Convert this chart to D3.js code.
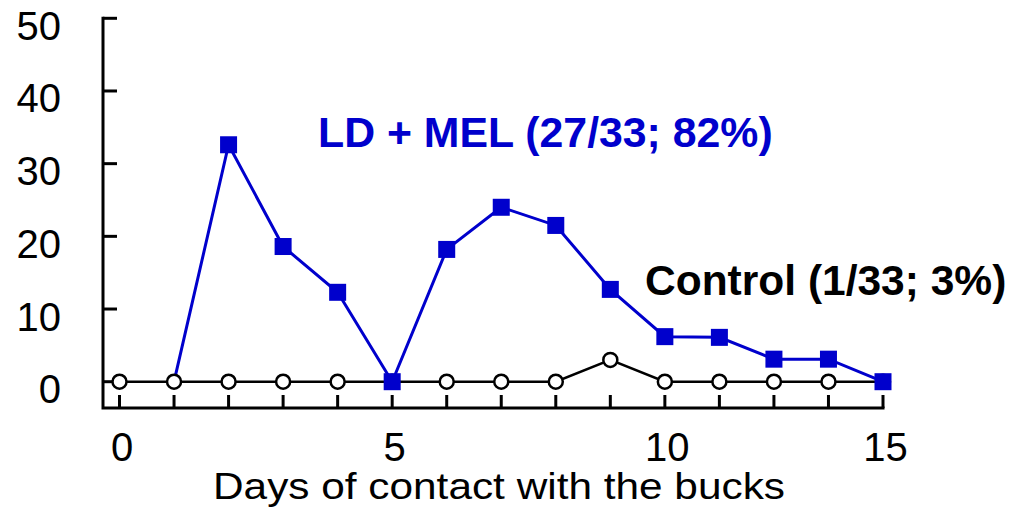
<!DOCTYPE html>
<html>
<head>
<meta charset="utf-8">
<script src="https://cdn.jsdelivr.net/npm/d3@7"></script>
<style>
  html, body { margin: 0; padding: 0; background: #fff; }
  svg { display: block; }
  text { font-family: "Liberation Sans", Arial, sans-serif; }
</style>
</head>
<body>
<svg id="chart" width="1009" height="507"></svg>
<script>
// Observation days (the last sampling point is day 15)
const days = [0, 1, 2, 3, 4, 5, 6, 7, 8, 9, 10, 11, 12, 13, 15];
// LD + MEL group: % of does, series starts from the baseline on day 1
const treatedDays = [1, 2, 3, 4, 5, 6, 7, 8, 9, 10, 11, 12, 13, 15];
const treatedValues = [0, 32.6, 18.6, 12.3, 0, 18.2, 24.0, 21.5, 12.7, 6.2, 6.1, 3.1, 3.1, 0];
// Control group
const controlValues = [0, 0, 0, 0, 0, 0, 0, 0, 0, 3.0, 0, 0, 0, 0, 0];
// Axis ticks
const yTicks = [0, 10, 20, 30, 40, 50];
const xLabelDays = [0, 5, 10, 15];

const blue = "#0000cc";
const svg = d3.select("#chart");

const x = d3.scalePoint().domain(days).range([119.5, 883]);
const y = d3.scaleLinear().domain([0, 50]).range([381.7, 18.3]);

const axisY = 408;  // baseline of the x axis
const axisX = 103;  // position of the y axis

// Axes frame
const axes = svg.append("g").attr("stroke", "#000").attr("stroke-width", 3).attr("fill", "none");
axes.append("path")
  .attr("d", `M${axisX},${y(50)}V${axisY}H${x(15)}`)
  .attr("stroke-linecap", "square");

// y ticks point inward
axes.selectAll("line.yt").data(yTicks).join("line")
  .attr("x1", axisX).attr("x2", axisX + 14)
  .attr("y1", d => y(d)).attr("y2", d => y(d));

// x ticks point upward, one per day
axes.selectAll("line.xt").data(days).join("line")
  .attr("x1", d => x(d)).attr("x2", d => x(d))
  .attr("y1", axisY).attr("y2", axisY - 13);

// y tick labels
svg.append("g").selectAll("text").data(yTicks).join("text")
  .attr("x", 61).attr("y", d => y(d) + 21.5)
  .attr("text-anchor", "end")
  .attr("font-size", 40)
  .attr("fill", "#000")
  .text(d => d);

// x tick labels
svg.append("g").selectAll("text").data(xLabelDays).join("text")
  .attr("x", d => x(d) + 2.5).attr("y", 461)
  .attr("text-anchor", "middle")
  .attr("font-size", 40)
  .attr("fill", "#000")
  .text(d => d);

// x axis title
svg.append("text")
  .attr("x", 213).attr("y", 499)
  .attr("font-size", 37)
  .attr("textLength", 572).attr("lengthAdjust", "spacingAndGlyphs")
  .attr("fill", "#000")
  .text("Days of contact with the bucks");

const line = d3.line().x(d => x(d[0])).y(d => y(d[1]));
const controlPts = days.map((d, i) => [d, controlValues[i]]);
const treatedPts = treatedDays.map((d, i) => [d, treatedValues[i]]);

// Series lines
svg.append("path").datum(controlPts)
  .attr("d", line).attr("fill", "none")
  .attr("stroke", "#000").attr("stroke-width", 2.5);
svg.append("path").datum(treatedPts)
  .attr("d", line).attr("fill", "none")
  .attr("stroke", blue).attr("stroke-width", 3);

// Control markers: open circles
svg.append("g").selectAll("circle").data(controlPts).join("circle")
  .attr("cx", d => x(d[0])).attr("cy", d => y(d[1]))
  .attr("r", 7)
  .attr("fill", "#fff").attr("stroke", "#000").attr("stroke-width", 2.5);

// LD + MEL markers: filled squares (the day-1 starting point shares the control marker)
const sq = 17;
svg.append("g").selectAll("rect").data(treatedPts.slice(1)).join("rect")
  .attr("x", d => x(d[0]) - sq / 2).attr("y", d => y(d[1]) - sq / 2)
  .attr("width", sq).attr("height", sq)
  .attr("fill", blue);

// Series annotations
svg.append("text")
  .attr("x", 318).attr("y", 147)
  .attr("font-size", 42.8).attr("font-weight", "bold")
  .attr("fill", blue)
  .text("LD + MEL (27/33; 82%)");
svg.append("text")
  .attr("x", 645).attr("y", 295)
  .attr("font-size", 42.5).attr("font-weight", "bold")
  .attr("fill", "#000")
  .text("Control (1/33; 3%)");
</script>
</body>
</html>
